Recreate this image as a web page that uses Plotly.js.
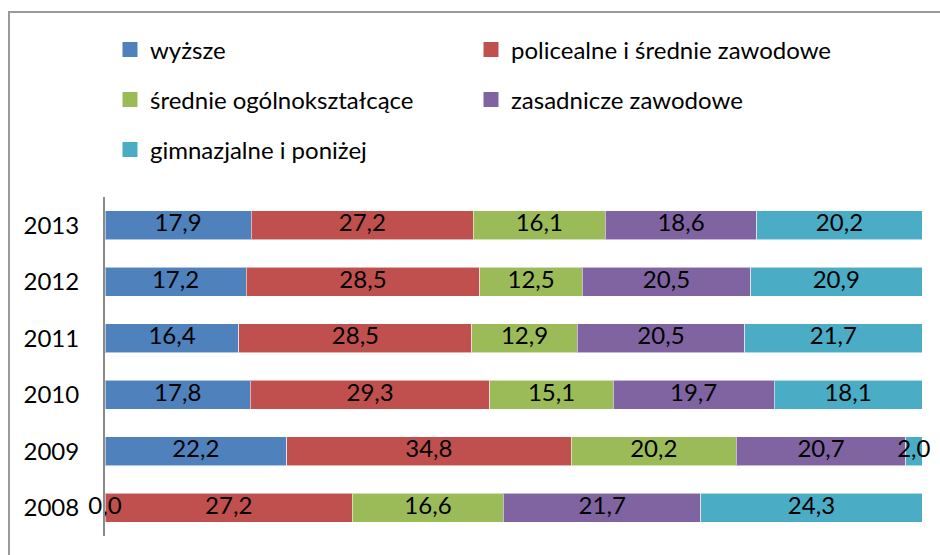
<!DOCTYPE html>
<html>
<head>
<meta charset="utf-8">
<script src="https://cdn.plot.ly/plotly-3.0.1.min.js"></script>
<style>
  html, body { margin: 0; padding: 0; background: #fff; }
  #wrap { position: relative; width: 940px; height: 555px; overflow: hidden; }
  #frame { position: absolute; left: 8px; top: 11px; width: 1200px; height: 1200px;
           border-left: 2px solid #9a9a9a; border-top: 2px solid #9a9a9a; }
  #chart { position: absolute; left: 0; top: 0; width: 940px; height: 555px; }
</style>
</head>
<body>
<div id="wrap">
  <div id="frame"></div>
  <div id="chart"></div>
</div>
<script>
const years = ['2008', '2009', '2010', '2011', '2012', '2013'];
const seriesNames = ['wyższe', 'policealne i średnie zawodowe', 'średnie ogólnokształcące',
                     'zasadnicze zawodowe', 'gimnazjalne i poniżej'];
const wyzsze        = [0.0, 22.2, 17.8, 16.4, 17.2, 17.9];
const policealne    = [27.2, 34.8, 29.3, 28.5, 28.5, 27.2];
const srednieOgolne = [16.6, 20.2, 15.1, 12.9, 12.5, 16.1];
const zasadnicze    = [21.7, 20.7, 19.7, 20.5, 20.5, 18.6];
const gimnazjalne   = [24.3, 2.0, 18.1, 21.7, 20.9, 20.2];

const series = [wyzsze, policealne, srednieOgolne, zasadnicze, gimnazjalne];
const colors = ['#4F81BD', '#C0504D', '#9BBB59', '#8064A2', '#4BACC6'];
const legendOf = ['legend', 'legend', 'legend2', 'legend2', 'legend3'];
const FONT = 'Lato, "Open Sans", sans-serif';
const fmt = (v) => v.toFixed(1).replace('.', ',');

const traces = series.map((vals, k) => ({
  type: 'bar', orientation: 'h', name: seriesNames[k],
  x: vals, y: years,
  marker: { color: colors[k], line: { color: 'rgba(255,255,255,0.55)', width: 1 } },
  showlegend: false, hoverinfo: 'skip',
}));

// legend-only entries, so the key squares can be a bit bigger than bar swatches
series.forEach((_, k) => traces.push({
  type: 'scatter', mode: 'markers', name: seriesNames[k], x: [null], y: [null],
  marker: { symbol: 'square', size: 15, color: colors[k] },
  legend: legendOf[k], hoverinfo: 'skip',
}));

// labels at the middle of each segment (bars are normalised to 100%)
const lx = [], ly = [], lt = [];
years.forEach((yr, i) => {
  const total = series.reduce((s, arr) => s + arr[i], 0);
  let cum = 0;
  series.forEach((arr) => {
    lx.push((cum + arr[i] / 2) / total * 100);
    ly.push(yr);
    lt.push(fmt(arr[i]));
    cum += arr[i];
  });
});
traces.push({
  type: 'scatter', mode: 'text', x: lx, y: ly, text: lt,
  textposition: 'middle center', textfont: { family: FONT, size: 24, color: '#000' },
  cliponaxis: false, showlegend: false, hoverinfo: 'skip',
});

const legendBase = (yPix) => ({
  orientation: 'h', xref: 'container', yref: 'container',
  x: 110 / 940, xanchor: 'left', y: 1 - yPix / 555, yanchor: 'middle',
  entrywidth: 316, entrywidthmode: 'pixels',
  font: { family: FONT, size: 24, color: '#000' },
  bgcolor: 'rgba(0,0,0,0)', borderwidth: 0, traceorder: 'normal',
});

Plotly.newPlot('chart', traces, {
  width: 940, height: 555,
  paper_bgcolor: 'rgba(0,0,0,0)', plot_bgcolor: 'rgba(0,0,0,0)',
  margin: { l: 105, r: 18, t: 197, b: 19 },
  font: { family: FONT, color: '#000' },
  barmode: 'stack', barnorm: 'percent', bargap: 0.49,
  xaxis: { range: [0, 100], visible: false, fixedrange: true },
  yaxis: {
    type: 'category', categoryorder: 'array', categoryarray: years,
    showline: true, linecolor: '#8a8a8a', linewidth: 2,
    showgrid: false, zeroline: false, ticks: '',
    ticklabelstandoff: 19,
    tickfont: { family: FONT, size: 24, color: '#000' },
  },
  legend: legendBase(50),
  legend2: legendBase(100),
  legend3: legendBase(150),
}, { displayModeBar: false, staticPlot: true });
</script>
</body>
</html>
